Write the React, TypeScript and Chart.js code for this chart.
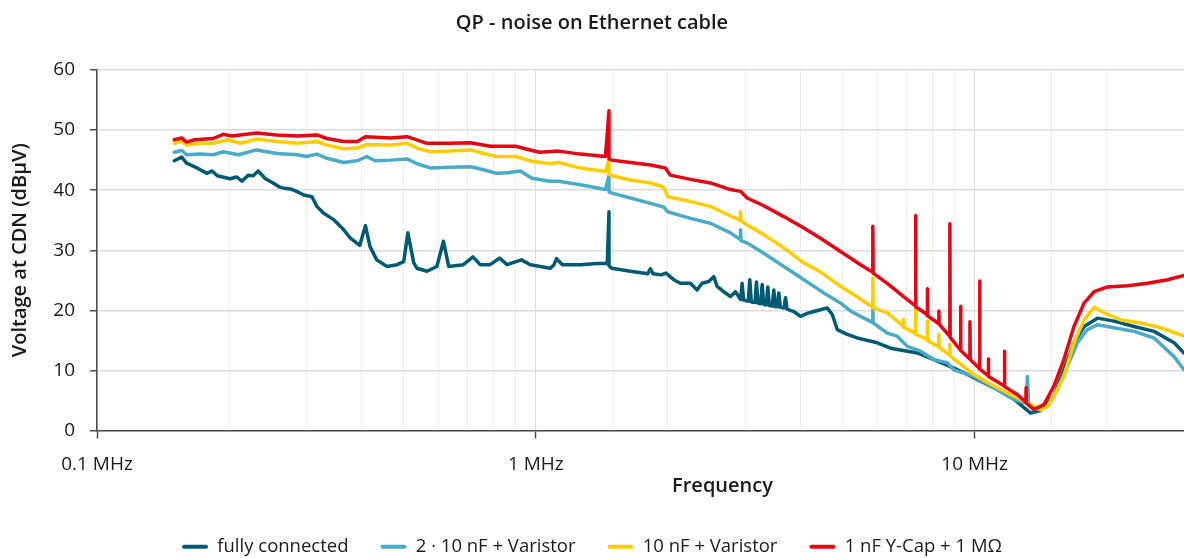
import React, { useEffect, useRef } from 'react';
import { Chart, registerables } from 'chart.js';

Chart.register(...registerables);

const chartTitle = 'QP - noise on Ethernet cable';
const xAxisTitle = 'Frequency';
const yAxisTitle = 'Voltage at CDN (dBµV)';

const seriesNames = ['fully connected', '2 · 10 nF + Varistor', '10 nF + Varistor', '1 nF Y-Cap + 1 MΩ'];
const seriesColors = ['#005a74', '#4aabc8', '#ffcc00', '#e30613'];

const xTickValues = [0.1, 1, 10];
const xTickLabels = ['0.1 MHz', '1 MHz', '10 MHz'];
const yMin = 0;
const yMax = 60;
const yStep = 10;
const xMin = 0.1;
const xMax = 30;

// fully connected
const fcFreq = [
  0.150, 0.156, 0.160, 0.169, 0.178, 0.183, 0.188, 0.201, 0.208, 0.214, 0.221, 0.227, 0.233, 0.242, 0.252,
  0.261, 0.268, 0.276, 0.285, 0.296, 0.309, 0.317, 0.328, 0.346, 0.365, 0.378, 0.397, 0.409, 0.419, 0.434,
  0.458, 0.483, 0.500, 0.511, 0.527, 0.536, 0.565, 0.595, 0.616, 0.633, 0.684, 0.719, 0.747, 0.787, 0.827,
  0.860, 0.927, 0.972, 1.079, 1.100, 1.115, 1.150, 1.263, 1.379, 1.455, 1.468, 1.468, 1.492, 1.643, 1.800,
  1.824, 1.850, 1.930, 1.980, 2.062, 2.135, 2.251, 2.331, 2.393, 2.478, 2.544, 2.589, 2.681, 2.777, 2.851,
  2.929, 2.952, 2.976, 3.049, 3.073, 3.098, 3.158, 3.183, 3.208, 3.254, 3.280, 3.306, 3.351, 3.378, 3.405,
  3.458, 3.486, 3.514, 3.551, 3.579, 3.608, 3.678, 3.707, 3.737, 3.872, 4.011, 4.154, 4.300, 4.454, 4.614,
  4.738, 4.863, 5.126, 5.402, 6.000, 6.433, 7.400, 8.075, 8.968, 9.960, 11.07, 12.29, 13.42, 14.14, 15.16,
  15.97, 16.84, 17.76, 19.05, 20.79, 23.08, 25.64, 28.48, 30.00,
];
const fcLevel = [
  44.9, 45.5, 44.5, 43.7, 42.8, 43.2, 42.4, 41.9, 42.2, 41.5, 42.5, 42.4, 43.2, 41.9, 41.2,
  40.5, 40.3, 40.2, 39.8, 39.2, 38.9, 37.3, 36.2, 35.1, 33.4, 32.0, 30.8, 34.1, 30.6, 28.4,
  27.3, 27.6, 28.1, 32.9, 27.9, 27.0, 26.5, 27.3, 31.5, 27.3, 27.6, 28.9, 27.6, 27.6, 28.7,
  27.6, 28.4, 27.6, 27.0, 27.6, 28.6, 27.6, 27.6, 27.8, 27.8, 36.4, 27.4, 27.0, 26.5, 26.1,
  26.9, 26.1, 25.9, 26.2, 25.1, 24.5, 24.5, 23.4, 24.5, 24.8, 25.6, 24.0, 23.1, 22.3, 23.1,
  21.8, 24.5, 21.7, 21.5, 25.1, 21.4, 21.3, 24.7, 21.2, 21.1, 24.3, 21.0, 20.9, 23.9, 20.8,
  20.7, 23.4, 20.6, 20.6, 22.9, 20.5, 20.4, 22.1, 20.2, 19.8, 19.0, 19.5, 19.8, 20.1, 20.4,
  19.3, 16.8, 16.0, 15.4, 14.6, 13.7, 12.9, 11.8, 10.4, 8.8, 7.1, 5.2, 2.9, 3.3, 5.7,
  10.1, 14.6, 17.3, 18.7, 18.2, 17.3, 16.5, 14.6, 12.9,
];

// 2 · 10 nF + Varistor
const twoCapFreq = [
  0.150, 0.156, 0.160, 0.172, 0.184, 0.194, 0.210, 0.231, 0.257, 0.286, 0.300, 0.317, 0.334, 0.365, 0.392,
  0.412, 0.430, 0.466, 0.509, 0.536, 0.575, 0.638, 0.710, 0.760, 0.815, 0.860, 0.922, 0.980, 1.079, 1.127,
  1.263, 1.441, 1.468, 1.468, 1.492, 1.643, 1.824, 1.956, 1.998, 2.251, 2.500, 2.777, 2.920, 2.927, 2.935,
  3.032, 3.307, 3.674, 3.872, 4.081, 4.532, 4.948, 5.214, 5.495, 5.850, 5.861, 5.872, 6.322, 6.663, 7.023,
  7.531, 8.075, 8.660, 8.968, 9.960, 11.07, 12.29, 13.10, 13.19, 13.28, 13.65, 14.65, 15.43, 16.26, 17.15,
  18.07, 19.05, 20.79, 23.08, 25.64, 28.48, 30.00,
];
const twoCapLevel = [
  46.3, 46.6, 45.9, 46.0, 45.9, 46.4, 45.9, 46.7, 46.1, 45.9, 45.6, 46.0, 45.3, 44.6, 44.9,
  45.6, 44.9, 45.0, 45.2, 44.4, 43.7, 43.8, 43.9, 43.4, 42.8, 42.9, 43.2, 42.0, 41.5, 41.5,
  40.9, 40.1, 42.5, 39.7, 39.5, 38.7, 37.8, 37.2, 36.4, 35.3, 34.5, 32.9, 31.8, 33.4, 31.6,
  31.2, 29.5, 27.3, 26.2, 25.1, 22.9, 21.2, 19.9, 19.0, 18.0, 20.1, 17.9, 16.2, 15.7, 14.0,
  13.2, 11.8, 11.3, 10.1, 9.0, 7.1, 5.2, 4.5, 9.0, 4.2, 3.5, 4.0, 6.8, 10.7, 14.6,
  16.8, 17.6, 17.1, 16.5, 15.4, 12.3, 10.1,
];

// 10 nF + Varistor
const oneCapFreq = [
  0.150, 0.156, 0.160, 0.172, 0.184, 0.198, 0.212, 0.231, 0.257, 0.286, 0.317, 0.334, 0.365, 0.392, 0.412,
  0.466, 0.509, 0.536, 0.575, 0.638, 0.710, 0.760, 0.815, 0.900, 0.980, 1.079, 1.127, 1.263, 1.441, 1.468,
  1.468, 1.492, 1.643, 1.824, 1.956, 1.998, 2.251, 2.500, 2.777, 2.920, 2.927, 2.935, 3.032, 3.307, 3.674,
  4.081, 4.454, 4.948, 5.495, 5.850, 5.861, 5.872, 6.322, 6.870, 6.880, 6.890, 7.320, 7.335, 7.350, 7.790,
  7.801, 7.812, 8.280, 8.290, 8.300, 8.770, 8.782, 8.795, 9.960, 11.07, 12.29, 13.19, 14.14, 14.65, 15.16,
  15.97, 16.84, 17.76, 18.72, 19.72, 21.53, 23.91, 26.56, 30.00,
];
const oneCapLevel = [
  47.8, 48.1, 47.5, 47.8, 47.8, 48.4, 47.8, 48.5, 48.1, 47.8, 48.1, 47.5, 46.9, 47.0, 47.6,
  47.5, 47.8, 47.0, 46.4, 46.5, 46.7, 46.1, 45.6, 45.6, 44.8, 44.4, 44.6, 43.7, 43.1, 45.0,
  42.6, 42.4, 41.7, 41.2, 40.5, 38.9, 38.1, 37.3, 35.7, 35.0, 36.4, 34.9, 34.2, 32.6, 30.4,
  27.9, 26.4, 24.0, 21.9, 20.6, 25.4, 20.4, 19.6, 17.4, 18.5, 17.2, 16.2, 20.3, 16.0, 15.2,
  18.2, 15.0, 13.9, 16.0, 13.8, 12.6, 14.3, 12.4, 9.3, 7.4, 5.7, 4.6, 3.4, 4.0, 5.7,
  9.0, 14.6, 18.4, 20.5, 19.6, 18.4, 17.9, 17.1, 15.7,
];

// 1 nF Y-Cap + 1 MΩ
const yCapFreq = [
  0.150, 0.156, 0.160, 0.167, 0.184, 0.194, 0.203, 0.231, 0.257, 0.286, 0.317, 0.334, 0.365, 0.392, 0.409,
  0.466, 0.509, 0.565, 0.638, 0.710, 0.787, 0.900, 0.980, 1.020, 1.127, 1.263, 1.441, 1.468, 1.468, 1.492,
  1.643, 1.824, 1.974, 2.026, 2.251, 2.500, 2.777, 2.927, 3.032, 3.307, 3.674, 4.081, 4.454, 4.948, 5.495,
  5.850, 5.861, 5.872, 6.322, 7.023, 7.320, 7.335, 7.350, 7.790, 7.801, 7.812, 8.280, 8.290, 8.300, 8.770,
  8.782, 8.795, 9.280, 9.292, 9.305, 9.745, 9.757, 9.770, 10.26, 10.27, 10.28, 10.74, 10.75, 10.76, 11.69,
  11.70, 11.71, 12.50, 13.09, 13.10, 13.11, 13.65, 14.39, 15.16, 15.97, 16.84, 17.76, 18.72, 20.08, 22.30,
  24.77, 27.51, 30.00,
];
const yCapLevel = [
  48.4, 48.7, 48.0, 48.4, 48.6, 49.3, 49.0, 49.5, 49.2, 49.0, 49.2, 48.6, 48.1, 48.1, 48.9,
  48.7, 48.9, 47.8, 47.8, 47.9, 47.3, 47.3, 46.6, 46.3, 46.5, 46.0, 45.6, 53.2, 45.2, 45.0,
  44.6, 44.2, 43.7, 42.5, 41.8, 41.2, 40.1, 39.8, 38.7, 37.4, 35.6, 33.7, 32.0, 29.8, 27.6,
  26.4, 34.0, 26.2, 24.5, 21.8, 20.8, 35.8, 20.6, 19.3, 23.6, 19.1, 17.8, 19.9, 17.7, 15.7,
  34.4, 15.5, 13.4, 20.7, 13.3, 11.9, 18.1, 11.8, 10.3, 24.9, 10.2, 9.1, 11.9, 9.0, 7.4,
  13.2, 7.3, 6.0, 4.7, 7.1, 4.6, 3.5, 4.3, 7.4, 11.8, 17.3, 21.2, 23.1, 23.9, 24.1,
  24.5, 25.1, 25.8,
];

const FONT = '"Open Sans", "Noto Sans", sans-serif';
const TEXT = '#1a1a1a';

function toPoints(freq: number[], level: number[]) {
  return freq.map((f, i) => ({ x: f, y: level[i] }));
}

const xTitlePlugin = {
  id: 'xTitleOffset',
  afterDraw(chart: any) {
    const xs = chart.scales.x;
    const area = chart.chartArea;
    const ctx = chart.ctx;
    ctx.save();
    ctx.font = `600 20px ${FONT}`;
    ctx.fillStyle = TEXT;
    ctx.textAlign = 'center';
    ctx.textBaseline = 'middle';
    ctx.fillText(xAxisTitle, (area.left + area.right) / 2 + 82, xs.top + 56);
    ctx.restore();
  },
};

export default function App() {
  const ref = useRef<HTMLCanvasElement>(null);

  useEffect(() => {
    document.body.style.margin = '0';
    if (!ref.current) return;
    const isDecade = (v: number) => Math.abs(Math.log10(v) - Math.round(Math.log10(v))) < 1e-6;
    const all = [
      toPoints(fcFreq, fcLevel),
      toPoints(twoCapFreq, twoCapLevel),
      toPoints(oneCapFreq, oneCapLevel),
      toPoints(yCapFreq, yCapLevel),
    ];
    const chart = new Chart(ref.current, {
      type: 'line',
      data: {
        datasets: all.map((pts, i) => ({
          label: seriesNames[i],
          data: pts,
          borderColor: seriesColors[i],
          backgroundColor: seriesColors[i],
          borderWidth: 3.5,
          pointRadius: 0,
          tension: 0,
          borderJoinStyle: 'round' as const,
          borderCapStyle: 'round' as const,
          order: 3 - i,
        })),
      },
      options: {
        animation: false,
        responsive: true,
        maintainAspectRatio: false,
        events: [],
        layout: { padding: { left: 0, right: 0, top: 0, bottom: -8 } },
        plugins: {
          title: {
            display: true,
            text: chartTitle,
            color: TEXT,
            font: { family: FONT, size: 20, weight: '600' },
            padding: { top: 11, bottom: 35 },
          },
          legend: {
            position: 'bottom',
            labels: {
              color: TEXT,
              font: { family: FONT, size: 18.5 },
              boxWidth: 26,
              boxHeight: 4,
              padding: 32,
              useBorderRadius: true,
              borderRadius: 2,
              sort: (a: any, b: any) => a.datasetIndex - b.datasetIndex,
              generateLabels: (chart: any) =>
                Chart.defaults.plugins.legend.labels.generateLabels(chart).map((l: any) => ({
                  ...l,
                  fillStyle: seriesColors[l.datasetIndex],
                  strokeStyle: seriesColors[l.datasetIndex],
                  lineWidth: 0,
                })),
            },
          },
          tooltip: { enabled: false },
        },
        scales: {
          x: {
            type: 'logarithmic',
            min: xMin,
            max: xMax,
            afterFit: (s: any) => {
              s.height = 75;
              s.paddingRight = 0;
            },
            border: { display: true, color: '#4d4d4d', width: 1.5 },
            grid: {
              color: (c: any) => (c.tick && isDecade(c.tick.value) ? '#dddddd' : '#ececec'),
              lineWidth: 1,
              tickLength: 8,
              tickColor: (c: any) => (c.tick && isDecade(c.tick.value) ? '#4d4d4d' : 'rgba(0,0,0,0)'),
              tickWidth: 1.5,
            },
            ticks: {
              autoSkip: false,
              maxRotation: 0,
              padding: 15,
              color: TEXT,
              font: { family: FONT, size: 19 },
              callback: (v: any) => {
                const idx = xTickValues.findIndex((t) => Math.abs(Math.log10(t) - Math.log10(Number(v))) < 1e-6);
                return idx >= 0 ? xTickLabels[idx] : '';
              },
            },
            title: { display: false },
          },
          y: {
            min: yMin,
            max: yMax,
            afterFit: (s: any) => {
              s.width = 97;
            },
            border: { display: true, color: '#4d4d4d', width: 1.5 },
            grid: {
              color: '#dcdcdc',
              lineWidth: 1.5,
              tickLength: 7,
              tickColor: '#4d4d4d',
              tickWidth: 1.5,
            },
            ticks: {
              stepSize: yStep,
              padding: 15,
              color: TEXT,
              font: { family: FONT, size: 19 },
            },
            title: {
              display: true,
              text: yAxisTitle,
              color: TEXT,
              font: { family: FONT, size: 20, weight: '600' },
              padding: { top: 8, bottom: 0 },
            },
          },
        },
      },
      plugins: [xTitlePlugin],
    });
    return () => chart.destroy();
  }, []);

  return (
    <div style={{ position: 'absolute', left: 0, top: 0, width: 1184, height: 558 }}>
      <canvas ref={ref} />
    </div>
  );
}
